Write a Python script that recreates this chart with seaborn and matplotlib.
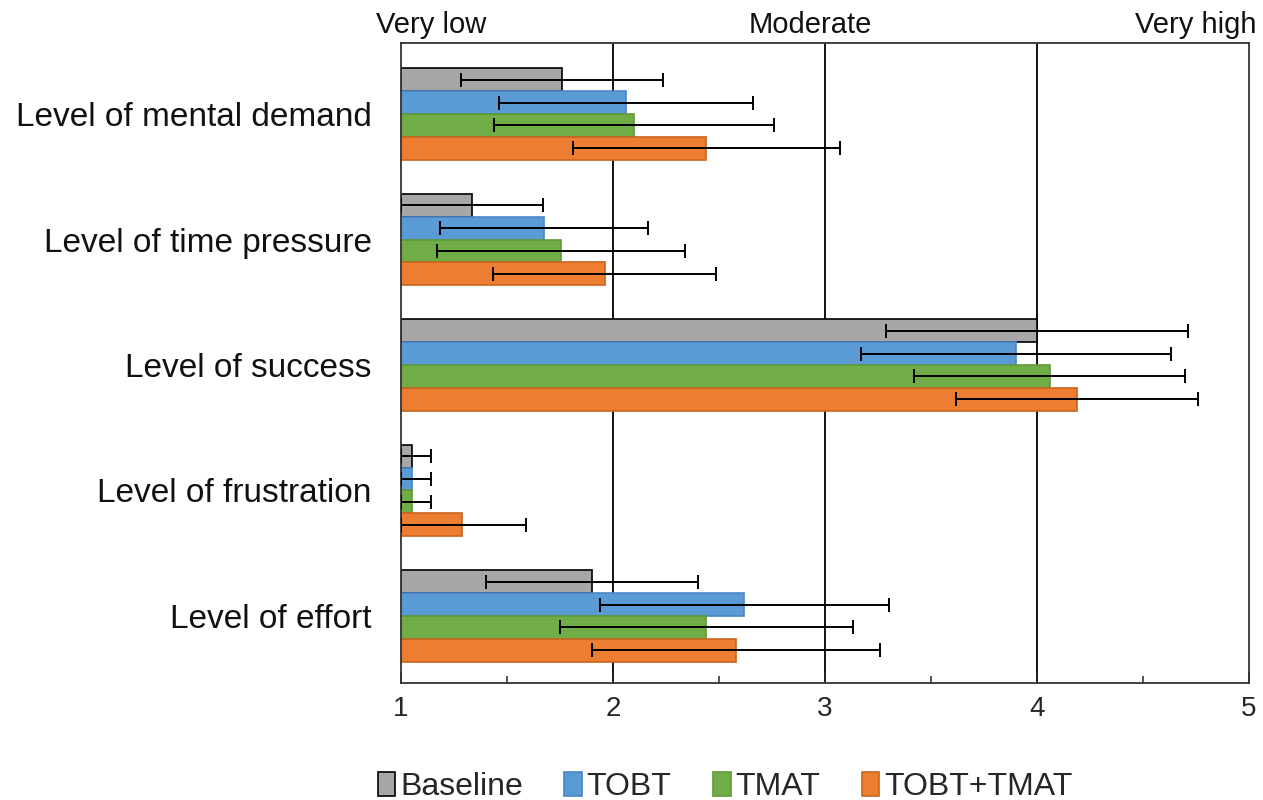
import pandas as pd
import matplotlib.pyplot as plt
import seaborn as sns

# data
categories = ['Level of mental demand', 'Level of time pressure', 'Level of success',
              'Level of frustration', 'Level of effort']
groups = ['Baseline', 'TOBT', 'TMAT', 'TOBT+TMAT']
means = {
    'Baseline':  [1.76, 1.335, 4.00, 1.05, 1.90],
    'TOBT':      [2.06, 1.675, 3.90, 1.05, 2.62],
    'TMAT':      [2.10, 1.755, 4.06, 1.05, 2.44],
    'TOBT+TMAT': [2.44, 1.96, 4.19, 1.29, 2.58],
}
errors = {
    'Baseline':  [0.475, 0.335, 0.71, 0.09, 0.50],
    'TOBT':      [0.60, 0.49, 0.73, 0.09, 0.68],
    'TMAT':      [0.66, 0.585, 0.64, 0.09, 0.69],
    'TOBT+TMAT': [0.63, 0.525, 0.57, 0.30, 0.68],
}
top_labels = ['Very low', 'Moderate', 'Very high']

colors = ['#A8A6A6', '#5B9BD5', '#70AD47', '#ED7D31']
edges = ['#000000', '#4A86C5', '#5E9A38', '#C8651F']

rows = []
for g in groups:
    for c, m, e in zip(categories, means[g], errors[g]):
        rows.append({'category': c, 'group': g, 'mean': m - 1, 'err': e})
df = pd.DataFrame(rows)

sns.set_style('white')
narrow = ['Liberation Sans Narrow', 'DejaVu Sans Condensed', 'Liberation Sans', 'DejaVu Sans']
regular = ['Liberation Sans', 'DejaVu Sans']
plt.rcParams['font.family'] = narrow

fig = plt.figure(figsize=(12.63, 8.0), dpi=100)
ax = fig.add_axes([401 / 1263, 1 - 683 / 800, 848 / 1263, 640 / 800])

# bars start at 1 (the axis left edge), so plot length = value - 1 with left=1
sns.barplot(data=df, x='mean', y='category', hue='group', orient='h',
            palette=colors, hue_order=groups, order=categories, saturation=1,
            width=0.73, errorbar=None, ax=ax, left=1, legend=False)

bar_conts = list(ax.containers)
for i, cont in enumerate(bar_conts):
    g = groups[i]
    sub = df[df['group'] == g].set_index('category').loc[categories]
    for bar, m, e in zip(cont, sub['mean'], sub['err']):
        bar.set_edgecolor(edges[i])
        bar.set_linewidth(1.2)
        yc = bar.get_y() + bar.get_height() / 2
        xv = m + 1
        lo = max(xv - e, 1.0)
        ax.errorbar(xv, yc, xerr=[[xv - lo], [e]], fmt='none',
                    ecolor='black', elinewidth=1.4, capsize=5, capthick=1.4, zorder=5)

ax.set_xlim(1, 5)
ax.set_ylim(4.534, -0.566)
for xv in [2, 3, 4]:
    ax.axvline(xv, color='black', lw=1.3, zorder=0)
ax.set_xticks([1, 2, 3, 4, 5])
ax.set_xticks([1.5, 2.5, 3.5, 4.5], minor=True)
ax.tick_params(axis='x', which='major', direction='in', length=8, width=1.1,
               labelsize=20, pad=9, bottom=True)
ax.tick_params(axis='x', which='minor', direction='in', length=5, width=1.1, bottom=True)
ax.tick_params(axis='y', length=0, pad=21)
for lab in ax.get_yticklabels():
    lab.set_fontfamily(regular)
    lab.set_fontsize(24)
    lab.set_color('#111111')
for s in ax.spines.values():
    s.set_color('#333333')
    s.set_linewidth(1.3)
ax.set_xlabel('')
ax.set_ylabel('')

for t, p in zip(top_labels, [1.14, 2.93, 4.75]):
    ax.text(p, -0.60, t, ha='center', va='bottom', fontsize=21, color='#111111',
            family=regular)

handles = [plt.Rectangle((0, 0), 1, 1, facecolor=c, edgecolor=e, lw=1.2)
           for c, e in zip(colors, edges)]
fig.legend(handles, groups, loc='center', bbox_to_anchor=(725 / 1263, 1 - 787 / 800), ncol=4,
           frameon=False, fontsize=23, handlelength=0.55, handleheight=0.75,
           handletextpad=0.15, columnspacing=1.3)

fig.savefig('out.png', dpi=100)
